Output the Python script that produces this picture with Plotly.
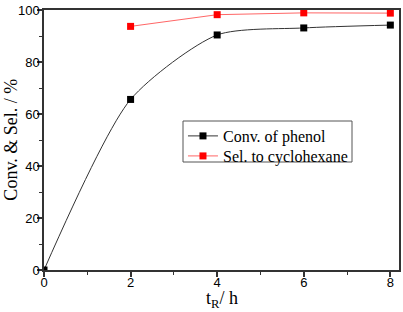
import plotly.graph_objects as go

t_conv = [0, 2, 4, 6, 8]
conv_phenol = [0, 65.6, 90.4, 93.1, 94.2]
t_sel = [2, 4, 6, 8]
sel_cyclohexane = [93.7, 98.2, 98.9, 98.8]

x_ticks = [0, 2, 4, 6, 8]
y_ticks = [0, 20, 40, 60, 80, 100]

fig = go.Figure()
fig.add_trace(go.Scatter(
    x=t_conv, y=conv_phenol, mode="lines+markers", name="Conv. of phenol",
    line=dict(color="#333333", width=1, shape="spline", smoothing=0.7),
    marker=dict(symbol="square", size=7, color="black"), legend="legend",
))
fig.add_trace(go.Scatter(
    x=t_sel, y=sel_cyclohexane, mode="lines+markers", name="Sel. to cyclohexane",
    line=dict(color="#ff6666", width=1),
    marker=dict(symbol="square", size=7, color="red"), legend="legend2",
))

axis_common = dict(
    showgrid=False, zeroline=False, showline=True, linecolor="#333333", linewidth=1.5,
    mirror=True, ticks="outside", ticklen=5, tickwidth=1.5, tickcolor="#333333",
    tickfont=dict(family="Liberation Sans, Arial", size=13, color="black"),
    automargin=False, ticklabelstandoff=-5,
)

serif = "Liberation Serif, Times New Roman"
legend_common = dict(
    xanchor="left", yanchor="top", bgcolor="rgba(0,0,0,0)", borderwidth=0,
    font=dict(family=serif, size=16, color="black"), itemwidth=30,
)

fig.update_layout(
    width=403, height=312,
    margin=dict(l=44, r=4, t=10, b=42, autoexpand=False),
    plot_bgcolor="white", paper_bgcolor="white",
    showlegend=True,
    legend=dict(x=0.3915, y=0.5808, **legend_common),
    legend2=dict(x=0.3915, y=0.5038, **legend_common),
    shapes=[
        dict(type="rect", xref="paper", yref="paper",
             x0=(183 - 44) / 355, x1=(352 - 44) / 355,
             y0=(270 - 162) / 260, y1=(270 - 121) / 260,
             line=dict(color="#555555", width=1), fillcolor="white", layer="above"),
    ],
    xaxis=dict(
        range=[0, 8.2], tickvals=x_ticks,
        minor=dict(dtick=1, ticks="outside", ticklen=3, tickcolor="#333333", tickwidth=1),
        **axis_common,
    ),
    yaxis=dict(
        range=[0, 100], tickvals=y_ticks,
        minor=dict(dtick=10, ticks="outside", ticklen=3, tickcolor="#333333", tickwidth=1),
        **axis_common,
    ),
    annotations=[
        dict(text="t<sub>R</sub>/ h", xref="paper", yref="paper", x=0.5, y=-0.112,
             xanchor="center", yanchor="middle", showarrow=False,
             font=dict(family=serif, size=18, color="black")),
        dict(text="Conv. & Sel. / %", xref="paper", yref="paper", x=-0.094, y=0.5,
             xanchor="center", yanchor="middle", textangle=-90, showarrow=False,
             font=dict(family=serif, size=18, color="black")),
    ],
)

fig.write_html("out.html", config={"displayModeBar": False},
               post_script="document.body.style.margin='0';")
